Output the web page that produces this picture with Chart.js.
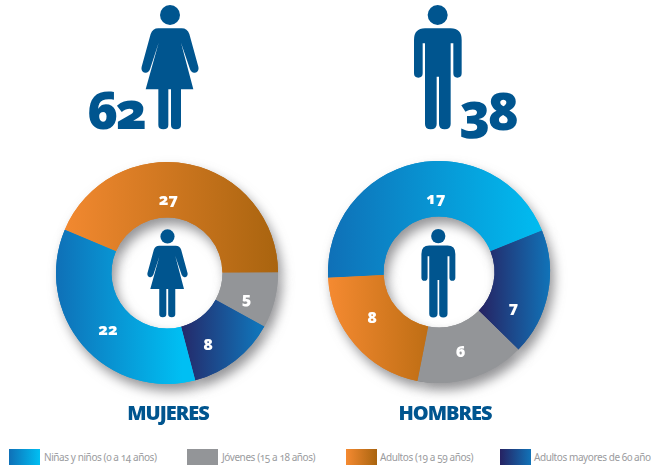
<!DOCTYPE html>
<html lang="es">
<head>
<meta charset="utf-8">
<title>Mujeres y hombres</title>
<script src="https://cdn.jsdelivr.net/npm/chart.js@4/dist/chart.umd.min.js"></script>
<style>
html, body { margin: 0; background: #fff; }
#page { position: relative; width: 651px; height: 470px; overflow: hidden; font-family: "Noto Sans", sans-serif; color: #00558f; }
#page > * { position: absolute; }
.total { font-size: 52px; font-weight: 900; line-height: 1; letter-spacing: -3px; font-feature-settings: "onum"; }
.title { font-size: 20px; font-weight: 900; line-height: 1; letter-spacing: -1px; transform: translateX(-50%); white-space: nowrap; }
.val { color: #fff; font-size: 16px; font-weight: 900; line-height: 1; transform: translate(-50%, -50%); font-feature-settings: "onum"; }
.sw { width: 31px; height: 16px; top: 449px; }
.lg { top: 450px; font-size: 10px; line-height: 14px; color: #9a9b9e; letter-spacing: -0.42px; white-space: nowrap; font-feature-settings: "onum"; }
</style>
</head>
<body>
<div id="page">
  <svg width="0" height="0">
    <symbol id="woman" viewBox="183 15 174 375"><circle cx="270" cy="45" r="30"/><path d="M235 85H305Q322 85 328 102L355 200Q358 215 345 218Q335 220 330 208L303 128L340 268H303V375Q303 388 288 388Q273 388 273 375V268H265V375Q265 388 250 388Q235 388 235 375V268H197L236 128L210 208Q205 220 195 218Q182 215 185 200L212 102Q218 85 235 85Z"/></symbol>
    <symbol id="man" viewBox="42 15 144 375"><circle cx="113" cy="45" r="30"/><path d="M75 85H152Q185 85 185 120V220Q185 233 172 233Q160 233 160 220V130H152V372Q152 388 134 388Q117 388 117 372V230H110V372Q110 388 92 388Q75 388 75 372V130H68V220Q68 233 55 233Q42 233 42 220V120Q42 85 75 85Z"/></symbol>
  </svg>

  <svg style="left:141px;top:5px" width="58" height="125" fill="#00558f"><use href="#woman"/></svg>
  <svg style="left:414px;top:5px" width="48" height="125" fill="#00558f"><use href="#man"/></svg>
  <div class="total" style="left:87px;top:83px">62</div>
  <div class="total" style="left:459px;top:84px">38</div>

  <canvas id="mujeres" width="260" height="260" style="left:37px;top:143px"></canvas>
  <canvas id="hombres" width="260" height="260" style="left:309px;top:142px"></canvas>

  <svg style="left:147px;top:229px" width="41" height="89" fill="#00558f"><use href="#woman"/></svg>
  <svg style="left:421px;top:229px" width="35" height="89" fill="#00558f"><use href="#man"/></svg>

  <div class="title" style="left:168px;top:403px">MUJERES</div>
  <div class="title" style="left:445px;top:403px">HOMBRES</div>

  <div class="sw" style="left:9px;background:linear-gradient(90deg,#0f70b7,#00bff3)"></div>
  <div class="lg" style="left:44px">Niñas y niños (0 a 14 años)</div>
  <div class="sw" style="left:187px;background:#939598"></div>
  <div class="lg" style="left:222px">Jóvenes (15 a 18 años)</div>
  <div class="sw" style="left:346px;background:linear-gradient(90deg,#f58a31,#a9640f)"></div>
  <div class="lg" style="left:380px">Adultos (19 a 59 años)</div>
  <div class="sw" style="left:500px;background:linear-gradient(90deg,#262262,#1173b8)"></div>
  <div class="lg" style="left:534px">Adultos mayores de 60 años</div>
</div>

<script>
const mujeresLabels = ['Adultos (19 a 59 años)', 'Jóvenes (15 a 18 años)', 'Adultos mayores de 60 años', 'Niñas y niños (0 a 14 años)'];
const mujeresValues = [27, 5, 8, 22];
const hombresLabels = ['Niñas y niños (0 a 14 años)', 'Adultos mayores de 60 años', 'Jóvenes (15 a 18 años)', 'Adultos (19 a 59 años)'];
const hombresValues = [17, 7, 6, 8];

// from, to as a share of the ring width, then the two colours
const ramps = {
    mujeres: [[0, 1, '#f58a31', '#a9640f'], [0, 1, '#939598', '#939598'], [0.53, 0.91, '#262262', '#1173b8'], [0, 0.57, '#0f70b7', '#00bff3']],
    hombres: [[0, 1, '#0f70b7', '#00bff3'], [0.68, 1, '#262262', '#1173b8'], [0, 1, '#939598', '#939598'], [0, 0.53, '#f58a31', '#b5690f']]
};

// the labels do not sit exactly mid slice in the original
const labelNudge = {
    mujeres: [[-15, 8], [-1, 4], [-10, 5], [4, 2]],
    hombres: [[15, 7], [-7, 19], [-3, -1], [-4, -10]]
};

function sliceFill(ramp) {
    return function (c) {
        const r = ramp[c.dataIndex];
        const area = c.chart.chartArea;
        if (!area) return r[2];
        const w = area.right - area.left;
        const g = c.chart.ctx.createLinearGradient(area.left + r[0] * w, 0, area.left + r[1] * w, 0);
        g.addColorStop(0, r[2]);
        g.addColorStop(1, r[3]);
        return g;
    };
}

// soft shadow under the ring, drawn once before the real slices
const ringShadow = {
    id: 'ringShadow',
    beforeDatasetsDraw(chart) {
        const ctx = chart.ctx;
        ctx.save();
        ctx.shadowColor = 'rgba(60,60,65,0.55)';
        ctx.shadowBlur = 12;
        ctx.shadowOffsetX = 4;
        ctx.shadowOffsetY = 7;
        chart.getDatasetMeta(0).data.forEach(a => a.draw(ctx));
        ctx.restore();
    }
};

// value labels are html so they can use old style figures
const sliceValues = {
    id: 'sliceValues',
    afterDatasetsDraw(chart) {
        const box = chart.canvas;
        const values = chart.data.datasets[0].data;
        const nudge = labelNudge[box.id];
        chart.getDatasetMeta(0).data.forEach((a, i) => {
            const p = a.tooltipPosition();
            const el = document.createElement('div');
            el.className = 'val';
            el.textContent = values[i];
            el.style.left = (box.offsetLeft + p.x + nudge[i][0]) + 'px';
            el.style.top = (box.offsetTop + p.y + nudge[i][1]) + 'px';
            box.parentNode.appendChild(el);
        });
    }
};

function makeRing(id, labels, values, rotation) {
    return new Chart(document.getElementById(id), {
        type: 'doughnut',
        data: {
            labels: labels,
            datasets: [{ data: values, backgroundColor: sliceFill(ramps[id]), borderWidth: 0 }]
        },
        options: {
            responsive: false,
            animation: false,
            cutout: '50%',
            rotation: rotation,
            layout: { padding: 19 },
            plugins: { legend: { display: false }, tooltip: { enabled: false } }
        },
        plugins: [ringShadow, sliceValues]
    });
}

makeRing('mujeres', mujeresLabels, mujeresValues, 293);
makeRing('hombres', hombresLabels, hombresValues, 267);
</script>
</body>
</html>
